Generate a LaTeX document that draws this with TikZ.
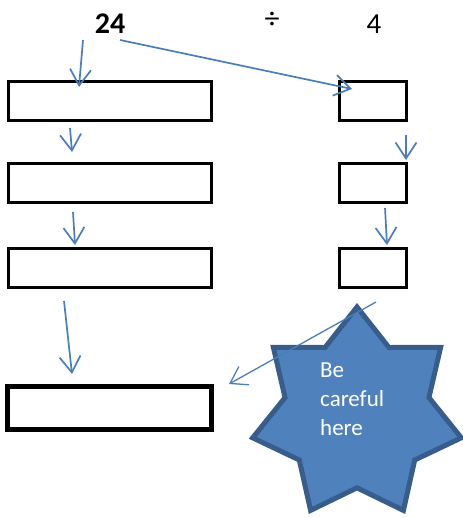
\documentclass[tikz,border=0pt]{standalone}
\usepackage{fontspec}
\setmainfont{Carlito}
\usetikzlibrary{arrows.meta,shapes.geometric}
\definecolor{arrowblue}{HTML}{4A7EBB}
\definecolor{starfill}{HTML}{4F81BD}
\definecolor{staredge}{HTML}{385D8A}

\begin{document}
\begin{tikzpicture}[x=1pt,y=-1pt,
        box/.style={draw=black,line width=3pt,inner sep=0pt},
        flow/.style={draw=arrowblue,line width=1.7pt,-{Straight Barb[length=16pt,width=21pt]}}]
        \useasboundingbox (0,0) rectangle (462,518);

        % the division on top
        \node[font=\bfseries\fontsize{30}{34}\selectfont] (num) at (110,24) {24};
        \node[font=\fontsize{30}{34}\selectfont] (div) at (272,20) {÷};
        \node[font=\fontsize{29}{33}\selectfont] (den) at (374,24) {4};

        % three rows of empty boxes
        \foreach \n/\y in {1/101.5,2/183.5,3/268} {
            \node[box,minimum width=203,minimum height=39] (l\n) at (109.5,\y) {};
            \node[box,minimum width=67,minimum height=39] (r\n) at (373,\y) {};
        }
        % answer box, thicker
        \node[box,line width=5pt,minimum width=204,minimum height=43] (ans) at (109.5,408) {};

        % the star
        \node[star,star points=7,star point ratio=1.45,minimum size=214,
              fill=starfill,draw=staredge,line width=5pt] (warn) at (357,414) {};
        \node[align=left,text=white,font=\fontsize{23}{29}\selectfont,
              anchor=north west,inner sep=0pt] (note) at (320,363) {Be\\careful\\here};

        % arrow ends
        \coordinate (a0) at (83,40);   \coordinate (a1) at (79,87);
        \coordinate (b0) at (120,40);  \coordinate (b1) at (352,89);
        \coordinate (c0) at (70,128);  \coordinate (c1) at (72,152);
        \coordinate (d0) at (73,212);  \coordinate (d1) at (75,245);
        \coordinate (e0) at (64,301);  \coordinate (e1) at (72,374);
        \coordinate (f0) at (406,135); \coordinate (f1) at (406,160);
        \coordinate (g0) at (385,208); \coordinate (g1) at (387,245);
        \coordinate (h0) at (376,302); \coordinate (h1) at (229,384);

        % arrows
        \draw[flow] (a0) -- (a1);
        \draw[flow] (b0) -- (b1);
        \draw[flow] (c0) -- (c1);
        \draw[flow] (d0) -- (d1);
        \draw[flow] (e0) -- (e1);
        \draw[flow] (f0) -- (f1);
        \draw[flow] (g0) -- (g1);
        \draw[flow,line width=1.3pt] (h0) -- (h1);
\end{tikzpicture}
\end{document}
